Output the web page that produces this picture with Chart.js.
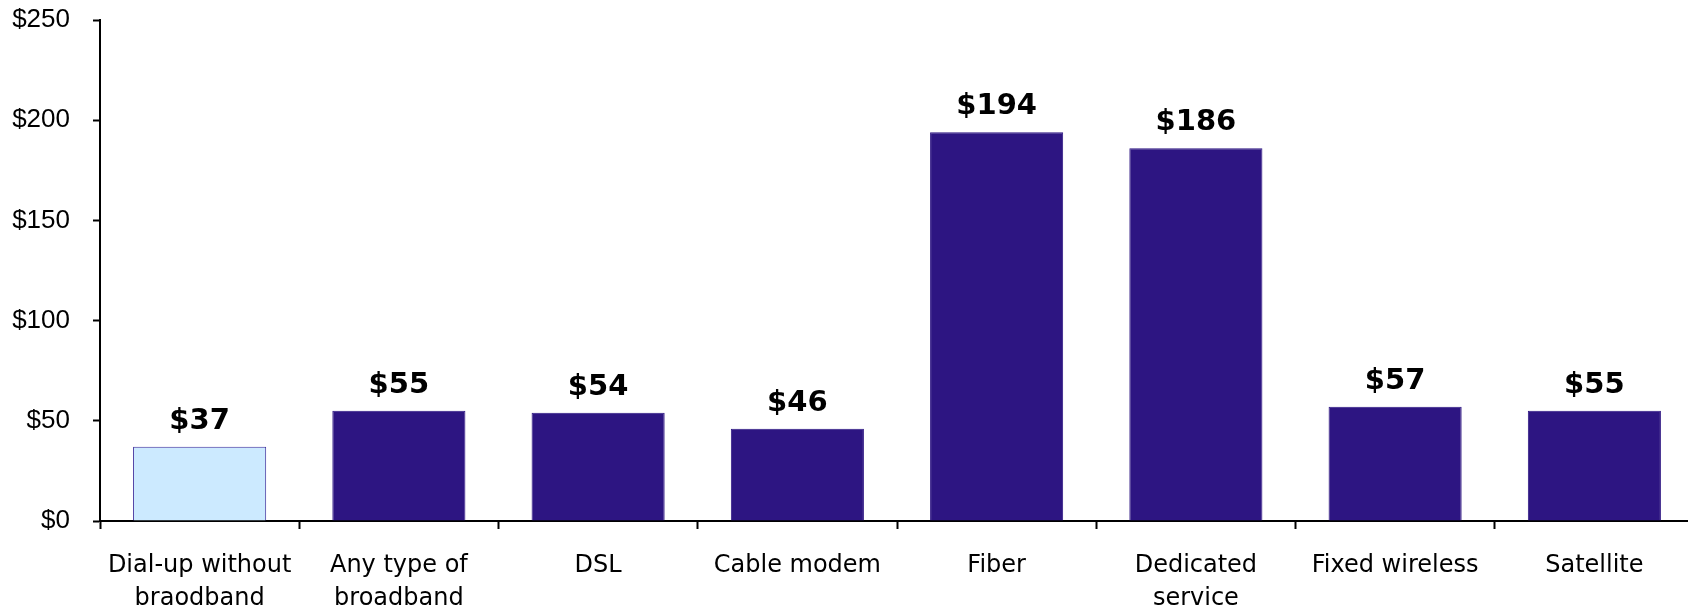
<!DOCTYPE html>
<html>
<head>
<meta charset="utf-8">
<script src="https://cdn.jsdelivr.net/npm/chart.js@4.4.1/dist/chart.umd.min.js"></script>
<style>
  html, body { margin: 0; padding: 0; background: #fff; overflow: hidden; }
  #wrap { width: 1688px; height: 609px; overflow: hidden; position: relative; }
  canvas { display: block; }
</style>
</head>
<body>
<div id="wrap"><canvas id="c" width="1700" height="609"></canvas></div>
<script>
// Average monthly price by connection type
const categories = [
  ['Dial-up without', 'braodband'],
  ['Any type of', 'broadband'],
  'DSL',
  'Cable modem',
  'Fiber',
  ['Dedicated', 'service'],
  'Fixed wireless',
  'Satellite'
];
const prices = [37, 55, 54, 46, 194, 186, 57, 55];
const yTicks = [0, 50, 100, 150, 200, 250];

const DARK = '#2D1582';
const LIGHT = '#CCEAFF';
const fillColors = prices.map((v, i) => i === 0 ? LIGHT : DARK);
const edgeColors = prices.map((v, i) => i === 0 ? '#3A2A9A' : DARK);

// Writes "$value" above each bar
const valueLabels = {
  id: 'valueLabels',
  afterDatasetsDraw(chart) {
    const ctx = chart.ctx;
    const meta = chart.getDatasetMeta(0);
    ctx.save();
    ctx.font = 'bold 29px "DejaVu Sans"';
    ctx.fillStyle = '#000';
    ctx.textAlign = 'center';
    ctx.textBaseline = 'alphabetic';
    meta.data.forEach((bar, i) => {
      ctx.fillText('$' + prices[i], bar.x, bar.y - 18);
    });
    ctx.restore();
  }
};

new Chart(document.getElementById('c'), {
  type: 'bar',
  data: {
    labels: categories,
    datasets: [{
      data: prices,
      backgroundColor: fillColors,
      borderColor: edgeColors,
      borderWidth: 1,
      barPercentage: 0.668,
      categoryPercentage: 1.0
    }]
  },
  options: {
    responsive: false,
    animation: false,
    devicePixelRatio: 1,
    layout: { padding: { top: 20, right: 6, left: 0, bottom: 0 } },
    plugins: {
      legend: { display: false },
      tooltip: { enabled: false }
    },
    scales: {
      x: {
        grid: {
          display: true,
          drawOnChartArea: false,
          drawTicks: true,
          tickLength: 8,
          tickWidth: 2,
          color: '#000',
          offset: true
        },
        border: { display: true, color: '#000', width: 2 },
        ticks: {
          color: '#000',
          font: { family: '"DejaVu Sans"', size: 24, lineHeight: 1.35 },
          padding: 21,
          maxRotation: 0,
          autoSkip: false
        },
        afterFit(scale) {
          scale.height = 88;
          scale.paddingLeft = 0;
          scale.paddingRight = 0;
        }
      },
      y: {
        min: 0,
        max: 250,
        afterBuildTicks(scale) { scale.ticks = yTicks.map(v => ({ value: v })); },
        grid: {
          display: true,
          drawOnChartArea: false,
          drawTicks: true,
          tickLength: 7,
          tickWidth: 2,
          color: '#000'
        },
        border: { display: true, color: '#000', width: 2 },
        ticks: {
          color: '#000',
          font: { family: '"Liberation Sans"', size: 26 },
          padding: 23,
          callback: v => '$' + v
        },
        afterFit(scale) {
          scale.width = 100;
          scale.paddingTop = 0;
          scale.paddingBottom = 0;
        }
      }
    }
  },
  plugins: [valueLabels]
});
</script>
</body>
</html>
